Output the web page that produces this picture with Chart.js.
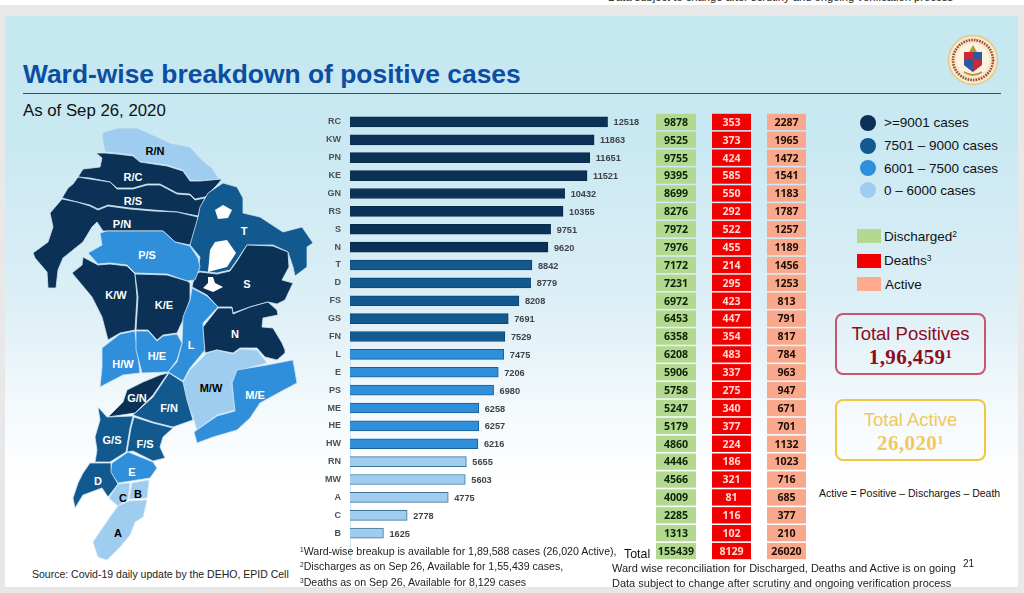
<!DOCTYPE html>
<html>
<head>
<meta charset="utf-8">
<title>Ward-wise breakdown of positive cases</title>
<script src="https://cdn.jsdelivr.net/npm/chart.js@4"></script>
<style>
    html, body { margin: 0; padding: 0; width: 1024px; height: 593px; overflow: hidden; background: #e8e8e8; font-family: "Liberation Sans", Arial, sans-serif; }
    .strip { position: absolute; left: 0; top: 0; width: 1024px; height: 5px; background: #fff; overflow: hidden; }
    .strip span { position: absolute; left: 608px; top: -9px; font-size: 11.2px; color: #222; white-space: nowrap; }
    .slide { position: absolute; left: 5px; top: 16px; width: 1013px; height: 571px; background: linear-gradient(#c6e8f1 0%, #c8e8f2 20%, #dceff6 50%, #f3f9fc 68%, #fff 82%); }
    .txt { position: absolute; white-space: nowrap; color: #111; line-height: 1; }
    .txt sup { font-size: 62%; line-height: 0; vertical-align: 0.45em; }
    #title { left: 23px; top: 61px; font-size: 26.4px; font-weight: bold; color: #0b4ea2; }
    #rule { position: absolute; left: 23px; top: 93px; width: 978px; height: 1px; background: #17567f; }
    #asof { left: 23px; top: 103px; font-size: 16.8px; }
    #map, #seal { position: absolute; left: 0; top: 0; }
    #barChart { position: absolute; left: 310px; top: 113px; }
    .dot { position: absolute; width: 16px; height: 16px; border-radius: 50%; left: 860px; }
    .sq { position: absolute; width: 24px; height: 14px; left: 857px; }
    .box { position: absolute; left: 835px; width: 147px; height: 58px; border-radius: 8px; border: 2.5px solid; text-align: center; }
    .box .t { font-size: 18.5px; margin-top: 10px; line-height: 1; }
    .box .v { font-family: "Liberation Serif", serif; font-weight: bold; font-size: 21px; letter-spacing: 0.4px; line-height: 1; margin-top: 3px; }
    .box sup { font-size: 60%; line-height: 0; vertical-align: 0.45em; }
    .foot { font-size: 10.6px; color: #222; }
</style>
</head>
<body>
<div class="strip"><span>Data subject to change after scrutiny and ongoing verification process</span></div>
<div class="slide"></div>
<div class="txt" id="title">Ward-wise breakdown of positive cases</div>
<div id="rule"></div>
<div class="txt" id="asof">As of Sep 26, 2020</div>

<svg id="map" width="1024" height="593"></svg>

<svg id="seal" width="1024" height="593">
    <circle cx="973" cy="60" r="24.5" fill="#f6e8c8" stroke="#e8c888" stroke-width="1.5"/>
    <circle cx="973" cy="60" r="20" fill="none" stroke="#9a4a3a" stroke-width="2.6" stroke-dasharray="1.6 1.1"/>
    <circle cx="973" cy="60" r="16.5" fill="#fbf3df"/>
    <path d="M964 52 h18 v13 l-9 7 l-9 -7 z" fill="#c8283a"/>
    <path d="M973 52 h9 v7 h-9 z M964 59 h9 v6 l0 7 l-9 -7 z" fill="#2a5aa0"/>
    <path d="M964 72 q9 6 18 0" fill="none" stroke="#b8963c" stroke-width="2"/>
    <path d="M969 52 l4 -7 l4 7 z" fill="#b8963c"/>
</svg>

<canvas id="barChart" width="505" height="447"></canvas>

<div class="dot" style="top:115px;background:#0b3156"></div>
<div class="dot" style="top:138px;background:#11598f"></div>
<div class="dot" style="top:160px;background:#2f8fdb"></div>
<div class="dot" style="top:182px;background:#9fcdf0"></div>
<div class="txt" style="left:884px;top:116px;font-size:13.5px">&gt;=9001 cases</div>
<div class="txt" style="left:884px;top:139px;font-size:13.5px">7501 – 9000 cases</div>
<div class="txt" style="left:884px;top:162px;font-size:13.5px">6001 – 7500 cases</div>
<div class="txt" style="left:884px;top:184px;font-size:13.5px">0 – 6000 cases</div>

<div class="sq" style="top:229px;background:#b3d88f"></div>
<div class="sq" style="top:254px;background:#f00000"></div>
<div class="sq" style="top:277px;background:#ffa98f"></div>
<div class="txt" style="left:884px;top:230px;font-size:13.5px">Discharged<sup>2</sup></div>
<div class="txt" style="left:884px;top:254px;font-size:13.5px">Deaths<sup>3</sup></div>
<div class="txt" style="left:885px;top:278px;font-size:13.5px">Active</div>

<div class="box" style="top:313px;border-color:#c9566f;color:#8e0c20">
    <div class="t">Total Positives</div>
    <div class="v">1,96,459<sup>1</sup></div>
</div>
<div class="box" style="top:399px;border-color:#f0c840;color:#f0c860">
    <div class="t">Total Active</div>
    <div class="v">26,020<sup>1</sup></div>
</div>
<div class="txt" style="left:819px;top:488px;font-size:10.5px">Active = Positive – Discharges – Death</div>

<div class="txt" style="left:624px;top:548px;font-size:12.4px">Total</div>
<div class="txt foot" style="left:32px;top:569px;font-size:10.5px">Source: Covid-19 daily update by the DEHO, EPID Cell</div>
<div class="txt foot" style="left:300px;top:546px"><sup>1</sup>Ward-wise breakup is available for 1,89,588 cases (26,020 Active),</div>
<div class="txt foot" style="left:300px;top:561px"><sup>2</sup>Discharges as on Sep 26, Available for 1,55,439 cases,</div>
<div class="txt foot" style="left:300px;top:577px"><sup>3</sup>Deaths as on Sep 26, Available for 8,129 cases</div>
<div class="txt foot" style="left:612px;top:563px;font-size:11px">Ward wise reconciliation for Discharged, Deaths and Active is on going</div>
<div class="txt foot" style="left:612px;top:578px;font-size:11px">Data subject to change after scrutiny and ongoing verification process</div>
<div class="txt foot" style="left:963px;top:559px;font-size:10px">21</div>

<script>
// Chart data
const wards = ['RC', 'KW', 'PN', 'KE', 'GN', 'RS', 'S', 'N', 'T', 'D', 'FS', 'GS', 'FN', 'L', 'E', 'PS', 'ME', 'HE', 'HW', 'RN', 'MW', 'A', 'C', 'B'];
const positives = [12518, 11863, 11651, 11521, 10432, 10355, 9751, 9620, 8842, 8779, 8208, 7691, 7529, 7475, 7206, 6980, 6258, 6257, 6216, 5655, 5603, 4775, 2778, 1625];
const discharged = [9878, 9525, 9755, 9395, 8699, 8276, 7972, 7976, 7172, 7231, 6972, 6453, 6358, 6208, 5906, 5758, 5247, 5179, 4860, 4446, 4566, 4009, 2285, 1313];
const deaths = [353, 373, 424, 585, 550, 292, 522, 455, 214, 295, 423, 447, 354, 483, 337, 275, 340, 377, 224, 186, 321, 81, 116, 102];
const active = [2287, 1965, 1472, 1541, 1183, 1787, 1257, 1189, 1456, 1253, 813, 791, 817, 784, 963, 947, 671, 701, 1132, 1023, 716, 685, 377, 210];
const totalDischarged = 155439;
const totalDeaths = 8129;
const totalActive = 26020;

// Colour bins, same thresholds as the legend
function binFill(value) {
    if (value >= 9001) return '#0b3156';
    if (value >= 7501) return '#11598f';
    if (value >= 6001) return '#2f8fdb';
    return '#9fcdf0';
}

function binEdge(value) {
    if (value >= 9001) return '#0a2a4a';
    if (value >= 7501) return '#0c4472';
    if (value >= 6001) return '#1c5f96';
    return '#3d7499';
}

// Ward outlines of the map in page pixels
const wardShapes = {
    RN: '102,133 117,128 137,128 153,135 170,143 190,147 202,160 212,168 219,179 200,181 190,180 183,170 167,165 153,163 140,162 133,155 117,153 105,152 103,142',
    RC: '96,153 105,153 117,154 133,156 140,162 167,166 183,171 190,181 200,181 222,179 217,185 205,197 195,199 190,194 177,193 160,184 147,184 133,188 117,188 110,182 90,178 78,177 83,169 100,167 102,158',
    RS: '78,177 90,179 110,182 117,189 133,189 147,185 160,185 177,194 190,195 195,200 205,198 202,205 198,216 177,212 153,210 130,208 108,205 98,209 90,205 77,202 62,198 68,188 73,184',
    PN: '62,199 77,202 90,206 98,210 108,206 130,209 153,211 177,212 198,217 197,230 190,245 175,242 163,231 137,231 103,231 97,222 92,227 83,242 73,250 63,258 58,270 56,288 48,288 47,272 35,258 33,253 48,242 53,227 50,213',
    T: '223,183 237,187 243,198 243,213 260,217 283,232 302,227 313,243 307,247 307,267 295,276 293,267 288,252 273,245 247,245 237,260 230,270 217,273 198,271 200,257 190,245 198,217 200,207 208,193',
    S: '247,245 273,246 288,252 289,267 282,280 293,283 285,300 277,304 268,302 250,307 233,313 232,307 218,307 207,295 192,287 195,274 200,272 217,274 230,271 237,261',
    PS: '100,233 107,231 163,231 175,242 190,246 198,258 200,267 195,280 187,281 167,274 135,273 127,265 110,263 98,264 88,253 102,245',
    KW: '83,257 98,265 110,264 127,266 135,274 137,297 135,330 120,333 108,340 102,317 92,297 72,273 82,265',
    KE: '135,274 167,275 187,281 190,283 190,300 183,320 177,333 163,335 157,340 148,330 136,330 138,297',
    L: '192,288 207,296 218,307 203,323 205,350 190,368 183,381 168,372 177,362 182,343 183,317 190,300',
    N: '233,314 250,307 268,302 277,310 278,315 263,318 262,327 273,328 282,343 285,350 285,353 277,360 265,357 257,348 240,348 233,353 217,350 205,353 203,327 218,308 232,308',
    HW: '102,348 120,334 135,331 140,373 123,375 100,387 102,367',
    HE: '136,331 148,331 157,341 163,336 177,334 182,343 177,360 168,372 142,373 136,350',
    MW: '207,353 217,350 233,354 240,349 257,350 267,363 240,370 232,383 235,410 217,415 197,430 193,417 186,400 183,382 190,370',
    ME: '237,370 267,365 293,360 297,383 280,392 260,403 250,418 237,430 213,437 197,443 194,432 217,416 235,411 232,383',
    GN: '160,375 168,373 153,395 135,413 108,417 123,402 127,390 143,382',
    FN: '169,373 183,382 187,400 193,420 173,427 153,422 133,415 153,397',
    GS: '98,407 107,417 133,416 130,428 126,452 110,462 95,462 97,450 95,437 100,420',
    FS: '134,417 153,423 173,428 163,437 160,447 165,458 153,461 133,451 127,452 131,428',
    E: '128,452 153,462 157,468 150,478 118,483 110,472 112,463',
    D: '90,463 111,463 111,472 118,484 108,497 102,488 83,495 75,508 73,498 78,483 83,473',
    C: '118,484 130,483 128,499 118,506 109,498',
    B: '132,483 149,480 147,498 129,499',
    A: '129,501 147,500 143,517 135,522 130,535 120,547 107,560 98,557 93,542 110,517 118,506'
};

// Holes in ward T and S (Vihar, Tulsi and Powai lakes)
const mapHoles = [
    '215,210 223,205 232,210 228,218 218,219',
    '215,242 227,240 236,253 227,267 208,272 210,250',
    '208,277 213,277 215,283 223,287 213,292 203,288 208,283'
];

const wardLabels = {
    RN: ['R/N', 155, 155], RC: ['R/C', 133, 181], RS: ['R/S', 133, 205], PN: ['P/N', 122, 228],
    PS: ['P/S', 147, 259], KW: ['K/W', 116, 299], KE: ['K/E', 164, 309], T: ['T', 244, 235],
    S: ['S', 247, 288], N: ['N', 235, 338], L: ['L', 191, 349], HW: ['H/W', 123, 368],
    HE: ['H/E', 157, 360], MW: ['M/W', 211, 392], ME: ['M/E', 255, 399], GN: ['G/N', 137, 402],
    FN: ['F/N', 169, 412], GS: ['G/S', 112, 444], FS: ['F/S', 145, 448], E: ['E', 132, 476],
    D: ['D', 98, 485], C: ['C', 123, 502], B: ['B', 138, 498], A: ['A', 118, 537]
};

function drawMap() {
    const svg = document.getElementById('map');
    let html = '';
    Object.keys(wardShapes).forEach(key => {
        const fill = binFill(positives[wards.indexOf(key)]);
        html += `<polygon points="${wardShapes[key]}" fill="${fill}" stroke="#cfe6f4" stroke-width="0.8" stroke-linejoin="round"/>`;
    });
    mapHoles.forEach(points => {
        html += `<polygon points="${points}" fill="#fff"/>`;
    });
    Object.keys(wardLabels).forEach(key => {
        const [text, x, y] = wardLabels[key];
        const color = positives[wards.indexOf(key)] <= 6000 ? '#000' : '#fff';
        html += `<text x="${x}" y="${y}" text-anchor="middle" font-size="11" font-weight="bold" font-family="Liberation Sans" fill="${color}">${text}</text>`;
    });
    svg.innerHTML = html;
}

// The three columns beside the bars, in page pixels relative to the canvas
const cellColumns = [
    { values: [...discharged, totalDischarged], left: 346, width: 40, fill: '#b3d88f', ink: '#0c2408' },
    { values: [...deaths, totalDeaths], left: 402, width: 39, fill: '#f00000', ink: '#ffd8d0' },
    { values: [...active, totalActive], left: 457, width: 39, fill: '#f9a88c', ink: '#1c0c06' }
];

const barExtras = {
    id: 'barExtras',
    afterDatasetsDraw(chart) {
        const { ctx, scales: { y } } = chart;

        // Value label at the end of each bar
        ctx.save();
        ctx.font = 'bold 9.2px "Liberation Sans"';
        ctx.fillStyle = '#3f4347';
        ctx.textAlign = 'left';
        ctx.textBaseline = 'middle';
        chart.getDatasetMeta(0).data.forEach((bar, i) => {
            ctx.fillText(positives[i], bar.x + 6, bar.y + 1);
        });

        // Discharged / deaths / active cells, one per category row
        const step = y.getPixelForValue(1) - y.getPixelForValue(0);
        ctx.font = 'bold 10.6px "Open Sans"';
        ctx.textAlign = 'center';
        cellColumns.forEach(col => {
            col.values.forEach((value, i) => {
                const top = y.getPixelForValue(i) - step / 2 + 0.8;
                ctx.fillStyle = col.fill;
                ctx.fillRect(col.left, top, col.width, step - 1.6);
                ctx.fillStyle = col.ink;
                ctx.fillText(value, col.left + col.width / 2, top + step / 2);
            });
        });
        ctx.restore();
    }
};

function drawBars() {
    const ctx = document.getElementById('barChart').getContext('2d');
    new Chart(ctx, {
        type: 'bar',
        data: {
            labels: [...wards, ''],
            datasets: [{
                data: positives,
                backgroundColor: positives.map(binFill),
                borderColor: positives.map(binEdge),
                borderWidth: 1,
                barThickness: 10
            }]
        },
        options: {
            indexAxis: 'y',
            responsive: false,
            animation: false,
            layout: { padding: 0 },
            plugins: {
                legend: { display: false },
                tooltip: { enabled: false }
            },
            scales: {
                x: {
                    display: false,
                    min: 0,
                    max: 22600
                },
                y: {
                    afterFit(scale) {
                        scale.width = 40;
                        scale.paddingTop = 0;
                        scale.paddingBottom = 0;
                    },
                    grid: { display: false },
                    border: { display: true, color: '#d6e6ee' },
                    ticks: {
                        autoSkip: false,
                        padding: 1,
                        color: '#4a4f55',
                        font: { family: 'Liberation Sans', size: 9, weight: 'bold' }
                    }
                }
            }
        },
        plugins: [barExtras]
    });
}

document.addEventListener('DOMContentLoaded', () => {
    drawMap();
    drawBars();
});
</script>
</body>
</html>
